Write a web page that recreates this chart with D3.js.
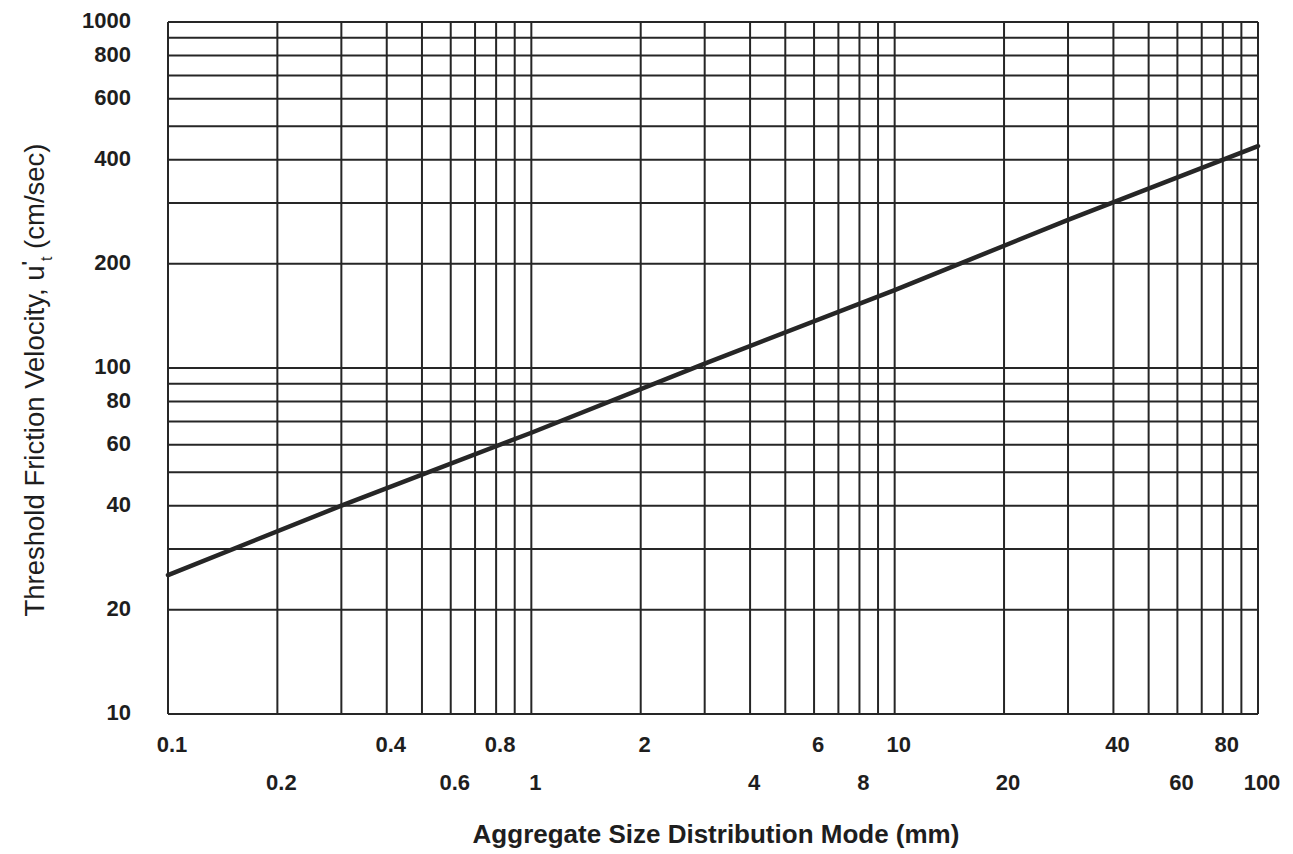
<!DOCTYPE html>
<html>
<head>
<meta charset="utf-8">
<script src="https://cdn.jsdelivr.net/npm/d3@7"></script>
<style>
  body { margin: 0; background: #fff; }
  svg { display: block; }
  text { font-family: "Liberation Sans", Arial, Helvetica, sans-serif; fill: #1e1e1e; }
</style>
</head>
<body>
<svg id="chart"></svg>
<script>
// aggregate size (mm) vs threshold friction velocity (cm/sec)
var sizeMm = [0.1, 0.3, 1, 3, 10, 30, 100];
var velocity = [25.2, 40, 65, 103, 168, 268, 438];

// x labels are staggered on two rows
var xLabelsTop = [0.1, 0.4, 0.8, 2, 6, 10, 40, 80];
var xLabelsBottom = [0.2, 0.6, 1, 4, 8, 20, 60, 100];
var yLabels = [10, 20, 40, 60, 80, 100, 200, 400, 600, 800, 1000];

var svgWidth = 1293, svgHeight = 854;
var plotLeft = 168, plotRight = 1258, plotTop = 22, plotBottom = 714;

var svg = d3.select('#chart')
    .attr('width', svgWidth)
    .attr('height', svgHeight);

var x = d3.scaleLog().domain([0.1, 100]).range([plotLeft, plotRight]);
var y = d3.scaleLog().domain([10, 1000]).range([plotBottom, plotTop]);

var ink = '#262626';

// grid - every 1..9 multiple in each decade
var grid = svg.append('g')
    .attr('stroke', ink)
    .attr('stroke-width', 2);

grid.selectAll('line.v')
    .data(x.ticks())
    .enter()
    .append('line')
    .attr('class', 'v')
    .attr('x1', function(d) { return x(d); })
    .attr('x2', function(d) { return x(d); })
    .attr('y1', plotTop)
    .attr('y2', plotBottom);

grid.selectAll('line.h')
    .data(y.ticks())
    .enter()
    .append('line')
    .attr('class', 'h')
    .attr('y1', function(d) { return y(d); })
    .attr('y2', function(d) { return y(d); })
    .attr('x1', plotLeft)
    .attr('x2', plotRight);

// the curve
var line = d3.line()
    .x(function(d, i) { return x(sizeMm[i]); })
    .y(function(d) { return y(d); });

svg.append('path')
    .datum(velocity)
    .attr('d', line)
    .attr('fill', 'none')
    .attr('stroke', ink)
    .attr('stroke-width', 4.5)
    .attr('stroke-linecap', 'round');

// tick labels
var fmt = function(d) { return String(d); };

svg.selectAll('text.yl')
    .data(yLabels)
    .enter()
    .append('text')
    .attr('class', 'yl')
    .attr('x', 131)
    .attr('y', function(d) { return y(d) + 6; })
    .attr('text-anchor', 'end')
    .attr('font-size', 22)
    .attr('font-weight', 'bold')
    .text(fmt);

svg.selectAll('text.xt')
    .data(xLabelsTop)
    .enter()
    .append('text')
    .attr('class', 'xt')
    .attr('x', function(d) { return x(d) + 4; })
    .attr('y', 752)
    .attr('text-anchor', 'middle')
    .attr('font-size', 22)
    .attr('font-weight', 'bold')
    .text(fmt);

svg.selectAll('text.xb')
    .data(xLabelsBottom)
    .enter()
    .append('text')
    .attr('class', 'xb')
    .attr('x', function(d) { return x(d) + 4; })
    .attr('y', 790)
    .attr('text-anchor', 'middle')
    .attr('font-size', 22)
    .attr('font-weight', 'bold')
    .text(fmt);

// axis titles
svg.append('text')
    .attr('x', 716)
    .attr('y', 843)
    .attr('text-anchor', 'middle')
    .attr('font-size', 26)
    .attr('font-weight', 'bold')
    .text('Aggregate Size Distribution Mode (mm)');

var yt = svg.append('text')
    .attr('transform', 'translate(44,380) rotate(-90)')
    .attr('text-anchor', 'middle')
    .attr('font-size', 27.5);
yt.append('tspan').text('Threshold Friction Velocity, u');
yt.append('tspan').attr('dy', -9).attr('font-size', 19).attr('font-weight', 'bold').text("'");
yt.append('tspan').attr('dy', 17).attr('font-size', 16).text('t');
yt.append('tspan').attr('dy', -8).text(' (cm/sec)');
</script>
</body>
</html>
